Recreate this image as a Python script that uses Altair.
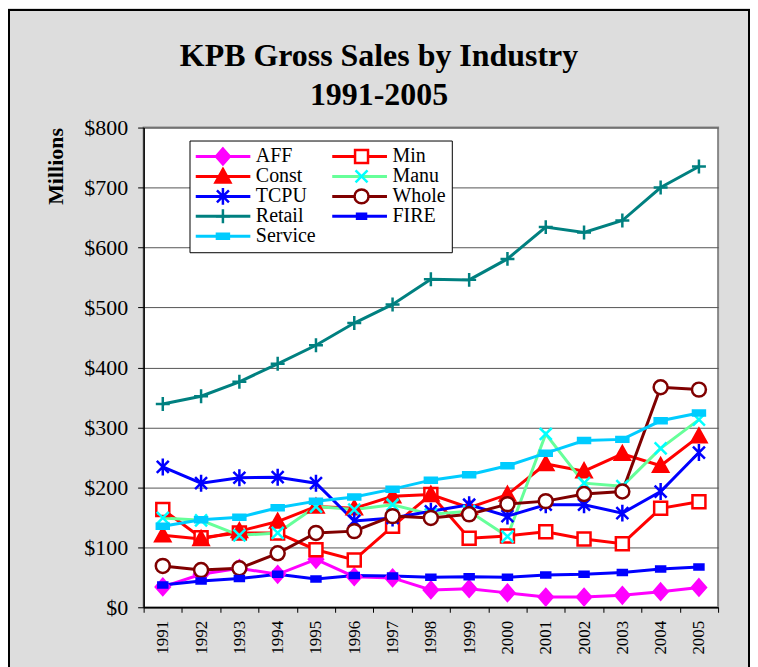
import altair as alt
import pandas as pd

# ---------------- data ----------------
years = ["1991", "1992", "1993", "1994", "1995", "1996", "1997", "1998",
         "1999", "2000", "2001", "2002", "2003", "2004", "2005"]
series_names = ["AFF", "Min", "Const", "Manu", "TCPU", "Whole", "Retail", "FIRE", "Service"]

AFF = [34, 55, 65, 55, 80, 51, 49, 29, 31, 24, 17, 17, 20, 26, 33]
Min = [163, 116, 124, 124, 96, 79, 135, 188, 115, 119, 126, 114, 106, 165, 176]
Const = [120, 114, 127, 143, 168, 165, 185, 188, 166, 188, 239, 227, 256, 236, 285]
Manu = [149, 145, 120, 124, 168, 163, 171, 155, 160, 118, 289, 207, 202, 265, 313]
TCPU = [234, 207, 216, 217, 207, 144, 149, 160, 171, 152, 171, 171, 157, 193, 258]
Whole = [69, 62, 65, 90, 124, 127, 152, 149, 155, 172, 177, 189, 193, 367, 363]
Retail = [339, 352, 376, 406, 437, 474, 505, 547, 546, 581, 634, 625, 645, 700, 735]
FIRE = [37, 44, 48, 55, 47, 53, 52, 50, 51, 50, 54, 55, 58, 64, 67]
Service = [135, 146, 150, 166, 177, 184, 197, 212, 221, 236, 257, 278, 280, 311, 324]

y_ticks = [0, 100, 200, 300, 400, 500, 600, 700, 800]

# ---------------- styles ----------------
line_colors = ["#ff00ff", "#ff0000", "#ff0000", "#66ff99", "#0000ff", "#800000", "#008080", "#0000ff", "#00ccff"]
marker_stroke = ["#ff00ff", "#ff0000", "#ff0000", "#00ffff", "#0000ff", "#800000", "#008080", "#0000ff", "#00ccff"]
marker_fill = ["#ff00ff", "#ffffff", "#ff0000", "#00ffff", "#0000ff", "#ffffff", "#008080", "#0000ff", "#00ccff"]
marker_paths = [
    "M0,-8L7,0L0,8L-7,0Z",                                   # diamond
    "M-6.5,-6.5H6.5V6.5H-6.5Z",                              # square
    "M0,-7.5L7.5,6L-7.5,6Z",                                 # triangle
    "M-6,-6L6,6M-6,6L6,-6",                                  # x
    "M-6,-6L6,6M-6,6L6,-6M0,-8.5V8.5",                       # asterisk
    "M-7,0A7,7 0 1,0 7,0A7,7 0 1,0 -7,0Z",                   # circle
    "M-7,0H7M0,-7V7",                                        # plus
    "M-4.5,-2.5H4.5V2.5H-4.5Z",                              # dash
    "M-6,-2.5H6V2.5H-6Z",                                    # dash
]

values = [AFF, Min, Const, Manu, TCPU, Whole, Retail, FIRE, Service]
rows = []
for name, vals in zip(series_names, values):
    for yr, v in zip(years, vals):
        rows.append({"Year": yr, "Series": name, "Sales": v})
df = pd.DataFrame(rows)

FONT = "Liberation Serif"
LX, LY = 46, 13

x_enc = alt.X(
    "Year:N",
    scale=alt.Scale(type="band", domain=years, paddingInner=0, paddingOuter=0),
    bandPosition=0.5,
    axis=alt.Axis(title=None, labelAngle=270, labelFont=FONT, labelFontSize=17,
                  labelColor="black", tickBand="extent", tickSize=5, tickColor="black",
                  labelPadding=8, domainColor="black", domainWidth=1.5, grid=False),
)
y_enc = alt.Y(
    "Sales:Q",
    scale=alt.Scale(domain=[0, 800], nice=False),
    axis=alt.Axis(values=y_ticks, format="$,.0f", title="Millions", titleFont=FONT,
                  titleFontSize=22, titleFontWeight="bold", titleColor="black",
                  titleAnchor="end", titlePadding=16, labelFont=FONT, labelFontSize=22,
                  labelColor="black", tickSize=6, tickColor="black", labelPadding=10,
                  domainColor="black", domainWidth=1.5, grid=True, gridColor="#555555",
                  gridWidth=1),
)

common_legend = dict(title=None, orient="none", legendX=LX, legendY=LY, columns=2,
                     direction="horizontal", symbolSize=4, symbolOffset=17.5,
                     clipHeight=20, labelFont=FONT, labelFontSize=20, rowPadding=0,
                     padding=6)

stub_legend = alt.Legend(symbolType="M-27.5,0H27.5", symbolStrokeWidth=3, labelColor="black",
                         labelOffset=23, columnPadding=16,
                         strokeColor="black", fillColor="white", **common_legend)
marker_legend = alt.Legend(symbolStrokeWidth=2.5, labelExpr="''", labelOffset=23,
                           columnPadding=78, symbolOpacity=1, **common_legend)

frame = alt.Chart(alt.Data(values=[{"f": 1}])).mark_rect(
    fill="transparent", stroke="black", strokeWidth=2
).encode(x=alt.value(-135), x2=alt.value(607), y=alt.value(-118), y2=alt.value(600))

lines = alt.Chart(df).mark_line(strokeWidth=3).encode(
    x=x_enc, y=y_enc,
    color=alt.Color("Series:N", sort=series_names, scale=alt.Scale(range=line_colors),
                    legend=stub_legend),
)

points = alt.Chart(df).mark_point(size=4, opacity=1, strokeWidth=2.5, filled=True).encode(
    x=x_enc, y=y_enc,
    shape=alt.Shape("Series:N", scale=alt.Scale(domain=series_names, range=marker_paths),
                    legend=marker_legend),
    fill=alt.Fill("Series:N", scale=alt.Scale(domain=series_names, range=marker_fill),
                  legend=marker_legend),
    stroke=alt.Stroke("Series:N", scale=alt.Scale(domain=series_names, range=marker_stroke),
                      legend=marker_legend),
)

chart = alt.layer(frame, lines, points).properties(
    width=576, height=481,
    title=alt.TitleParams(text=["KPB Gross Sales by Industry", "1991-2005"], font=FONT,
                          fontSize=32, fontWeight="bold", color="black", anchor="middle",
                          dx=-52, lineHeight=39, offset=-103),
    autosize=alt.AutoSizeParams(type="none"),
    padding={"left": 136, "top": 119, "right": 32, "bottom": 60},
).configure(background="#dddddd").configure_view(fill="white", stroke="#888888", strokeWidth=2)

chart.save("out.html", embed_options={"renderer": "svg", "actions": False})
